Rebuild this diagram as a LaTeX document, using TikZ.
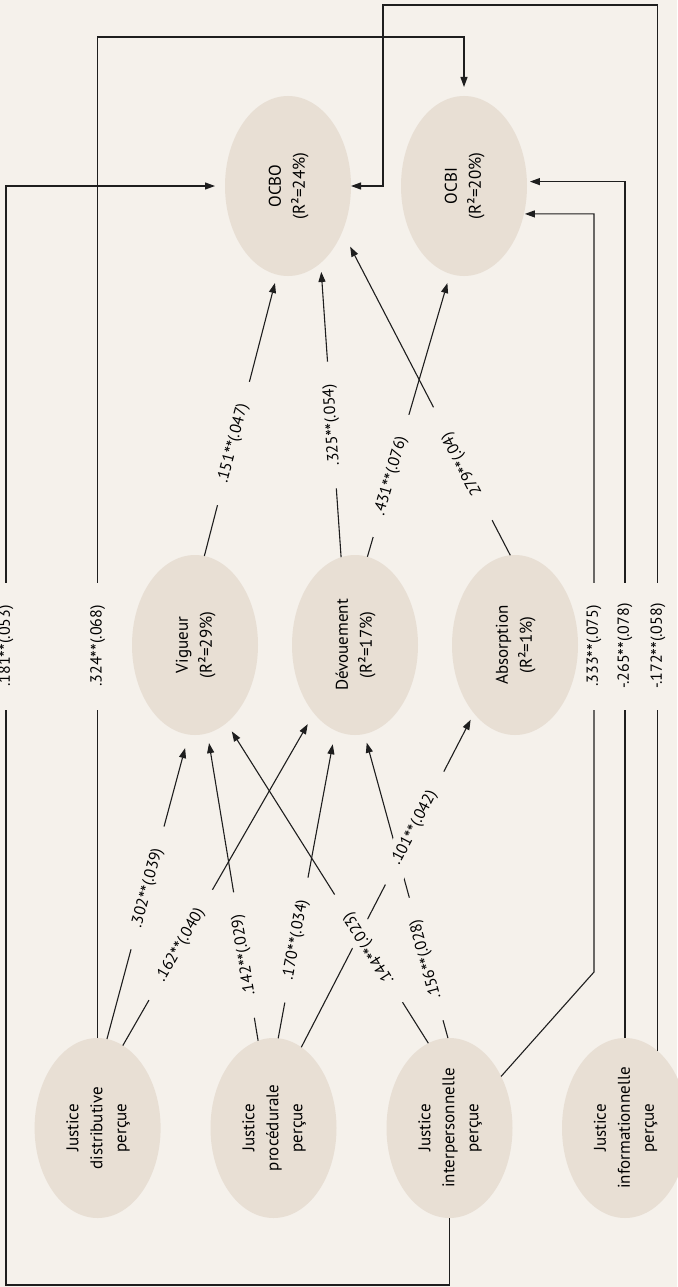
\documentclass[tikz,border=0pt]{standalone}
\usepackage{fontspec}
\setmainfont{PT Sans}
\usetikzlibrary{arrows.meta,shapes.geometric}
\definecolor{bg}{HTML}{F5F1EB}
\definecolor{ell}{HTML}{E8DFD4}
\definecolor{ln}{HTML}{1E1E1E}
\newcommand\sigst{\raisebox{-0.35ex}{\fontsize{19}{19}\selectfont **}}
\begin{document}
\begin{tikzpicture}[x=1pt,y=-1pt,
  oval/.style={ellipse,fill=ell,minimum width=126pt,minimum height=180pt,inner sep=0pt,outer sep=0pt,font=\fontsize{17}{24}\selectfont},
  conn/.style={draw=ln,line width=1.1pt,-{Triangle[length=10pt,width=7pt]}},
  lab/.style={fill=bg,minimum width=127pt,minimum height=28pt,inner sep=0pt,font=\fontsize{16}{18}\selectfont}]
\fill[bg] (0,0) rectangle (677,1287);
\useasboundingbox (0,0) rectangle (677,1287);
% ellipses
\node[oval] (ocbo) at (288,186) {\rotatebox{90}{\begin{tabular}{@{}c@{}}OCBO\\(R²=24\%)\end{tabular}}};
\node[oval] (ocbi) at (464,186) {\rotatebox{90}{\begin{tabular}{@{}c@{}}OCBI\\(R²=20\%)\end{tabular}}};
\node[oval] (vig) at (195,645) {\rotatebox{90}{\begin{tabular}{@{}c@{}}Vigueur\\(R²=29\%)\end{tabular}}};
\node[oval] (dev) at (355,645) {\rotatebox{90}{\begin{tabular}{@{}c@{}}Dévouement\\(R²=17\%)\end{tabular}}};
\node[oval] (abs) at (515,645) {\rotatebox{90}{\begin{tabular}{@{}c@{}}Absorption\\(R²=1\%)\end{tabular}}};
\node[oval] (jdis) at (97.6,1128) {\rotatebox{90}{\begin{tabular}{@{}c@{}}Justice\\distributive\\perçue\end{tabular}}};
\node[oval] (jpro) at (273.5,1128) {\rotatebox{90}{\begin{tabular}{@{}c@{}}Justice\\procédurale\\perçue\end{tabular}}};
\node[oval] (jint) at (449.5,1128) {\rotatebox{90}{\begin{tabular}{@{}c@{}}Justice\\interpersonnelle\\perçue\end{tabular}}};
\node[oval] (jinf) at (625,1128) {\rotatebox{90}{\begin{tabular}{@{}c@{}}Justice\\informationnelle\\perçue\end{tabular}}};
% mediators -> outcomes
\draw[conn,shorten >=8.6pt] (vig.84) -- (ocbo.263);
\draw[conn,shorten >=9pt] (dev.99) -- (ocbo.293);
\draw[conn,shorten >=9.7pt] (dev.82) -- (ocbi.261);
\draw[conn,shorten >=17pt] (abs.93) -- (ocbo.320);
% justice -> mediators
\draw[conn,shorten >=14pt] (jdis.84) -- (vig.266);
\draw[conn,shorten >=12.5pt] (jdis.73) -- (dev.239);
\draw[conn,shorten >=10pt] (jpro.100) -- (vig.278);
\draw[conn,shorten >=14pt] (jpro.87) -- (dev.257);
\draw[conn,shorten >=7.3pt] (jpro.71) -- (abs.239);
\draw[conn,shorten >=10pt] (jint.104) -- (vig.292);
\draw[conn,shorten >=9pt] (jint.91) -- (dev.276);
% direct paths
\draw[conn,shorten >=10pt] (jint.south) -- ++(0,67) -| (6,186) -- (ocbo.west);
\draw[conn,shorten >=9pt] (jdis.north) -- ++(0,-1001) -| (ocbi.north);
\draw[conn,shorten >=1pt] (jint.45) -- (594,972) |- (ocbi.335);
\draw[conn,shorten >=3pt] (jinf.north) |- (ocbi.4);
\draw[conn] (jinf.67) -- ++(0,-1046) -| (383,186) -- (ocbo.east);
% labels
\node[lab,rotate=90] (l181) at (6,646) {.181\sigst(.053)};
\node[lab,rotate=90] (l324) at (97.6,646) {.324\sigst(.068)};
\node[lab,rotate=90] (l333) at (594,646) {.333\sigst(.075)};
\node[lab,rotate=90] (l265) at (625,646) {-.265\sigst(.078)};
\node[lab,rotate=90] (l172) at (658,646) {-.172\sigst(.058)};
\node[lab,rotate=74.85] (l302) at (147.8,888) {.302\sigst(.039)};
\node[lab,rotate=75.5] (l151) at (233.5,443.5) {.151\sigst(.047)};
\node[lab,rotate=93.9] (l325) at (332.1,425) {.325\sigst(.054)};
\node[lab,rotate=73.9] (l431) at (391.3,476) {.431\sigst(.076)};
\node[lab,rotate=117.4] (l279) at (462.3,464) {279\sigst(.04)};
\node[lab,rotate=60.2] (l162) at (180.8,945) {.162\sigst(.040)};
\node[lab,rotate=99.3] (l142) at (244.2,955) {.142\sigst(.029)};
\node[lab,rotate=79.4] (l170) at (296,940) {.170\sigst(.034)};
\node[lab,rotate=122.2] (l144) at (369.1,948) {.144\sigst(.023)};
\node[lab,rotate=105.3] (l156) at (426.1,959) {.156\sigst(.028)};
\node[lab,rotate=62.5] (l101) at (414.5,828) {.101\sigst(.042)};
\end{tikzpicture}
\end{document}
